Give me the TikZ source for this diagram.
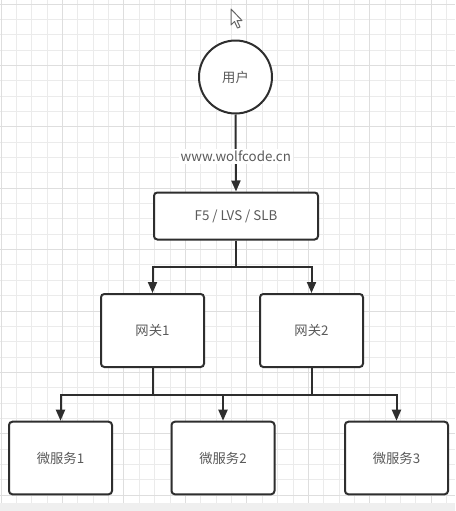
\documentclass[tikz,border=0pt]{standalone}
\usepackage{fontspec}
\setmainfont{Noto Sans CJK SC}
\usetikzlibrary{arrows.meta}
\definecolor{inkline}{HTML}{2E2E2E}
\definecolor{inktext}{HTML}{5A5A5A}
\definecolor{gridminor}{HTML}{EBEBEB}
\definecolor{gridmajor}{HTML}{DEDEDE}
\definecolor{footband}{HTML}{EFEFEF}
\tikzset{
  gridline/.style={draw=gridminor, line width=0.75pt},
  gridbold/.style={draw=gridmajor, line width=0.75pt},
  boxnode/.style={draw=inkline, fill=white, line width=1.5pt, rounded corners=2.5pt,
    font=\fontsize{10pt}{12pt}\selectfont, text=inktext, inner sep=0pt},
  usernode/.style={circle, draw=inkline, fill=white, line width=1.5pt,
    minimum size=54.75pt, inner sep=0pt, font=\fontsize{10pt}{12pt}\selectfont, text=inktext},
  link/.style={draw=inkline, line width=1.5pt},
  arrowlink/.style={link, -{Triangle[width=6.75pt,length=8.25pt]}},
  linklabel/.style={fill=white, inner sep=1.5pt, font=\fontsize{10pt}{12pt}\selectfont, text=inktext}
}
\begin{document}
\begin{tikzpicture}[x=0.75pt, y=-0.75pt]
  \useasboundingbox (0,0) rectangle (455,511);
  % canvas and grid
  \fill[white] (0,0) rectangle (455,511);
  \foreach \k in {0,...,29} \draw[gridline] ({1+15.37*\k},0) -- ({1+15.37*\k},503);
  \foreach \k in {0,...,32} \draw[gridline] (0,{4+15.35*\k}) -- (455,{4+15.35*\k});
  \foreach \k in {0,4,...,28} \draw[gridbold] ({1+15.37*\k},0) -- ({1+15.37*\k},503);
  \foreach \k in {0,4,...,32} \draw[gridbold] (0,{4+15.35*\k}) -- (455,{4+15.35*\k});
  \fill[footband] (0,503) rectangle (455,511);

  % pointer
  \draw[draw=black!60, fill=white, line width=0.75pt, line join=round]
    (231,9) -- (231,25) -- (234.5,21.5) -- (237.5,28) -- (240,27) -- (237,20.5) -- (242,20.5) -- cycle;

  % nodes
  \node[usernode] (user) at (235.5,77) {用户};
  \node[boxnode, minimum width=123pt, minimum height=35.25pt] (lb) at (236,216) {F5 / LVS / SLB};
  \node[boxnode, minimum width=77.25pt, minimum height=54.75pt] (gw1) at (152.5,330.5) {网关1};
  \node[boxnode, minimum width=77.25pt, minimum height=54.75pt] (gw2) at (311.5,330.5) {网关2};
  \node[boxnode, minimum width=77.25pt, minimum height=54.4pt] (ms1) at (60.5,458) {微服务1};
  \node[boxnode, minimum width=77.25pt, minimum height=54.4pt] (ms2) at (223,458) {微服务2};
  \node[boxnode, minimum width=77.25pt, minimum height=54.4pt] (ms3) at (396.5,458) {微服务3};

  % user to load balancer
  \draw[arrowlink] (user.south) -- node[linklabel, pos=0.54] {www.wolfcode.cn} (lb.north);

  % load balancer to gateways
  \draw[link] (lb.south) -- ++(0,26.5) coordinate (lbsplit);
  \draw[arrowlink] (lbsplit) -| (gw1.north);
  \draw[arrowlink] (lbsplit) -| (gw2.north);

  % gateways to services
  \draw[link] (gw1.south) -- ++(0,27) coordinate (gwjoin1);
  \draw[link] (gw2.south) -- ++(0,27) coordinate (gwjoin2);
  \draw[link] (gwjoin1) -- (gwjoin2);
  \draw[arrowlink] (gwjoin1) -| (ms1.north);
  \draw[arrowlink] (gwjoin1 -| ms2.north) -- (ms2.north);
  \draw[arrowlink] (gwjoin2) -| (ms3.north);
\end{tikzpicture}
\end{document}
